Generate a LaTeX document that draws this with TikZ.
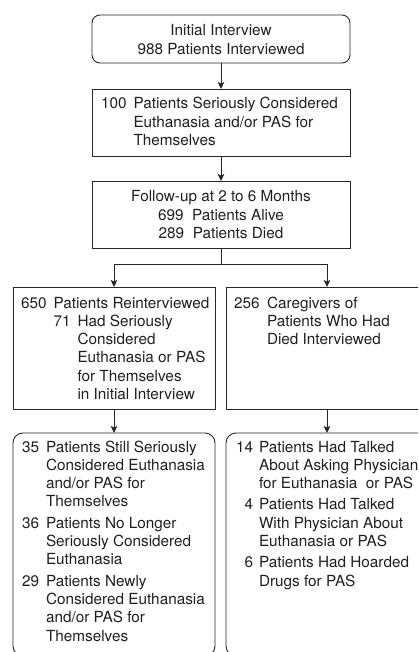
\documentclass[tikz,border=0pt]{standalone}
\usepackage{fontspec}
\setmainfont{TeX Gyre Heros}
\usetikzlibrary{arrows.meta}
\begin{document}
\begin{tikzpicture}[x=1pt,y=-1pt,
  box/.style={draw=black!85,line width=0.9pt,inner sep=0pt,outer sep=0pt,anchor=north west},
  rbox/.style={box,rounded corners=8pt},
  txt/.style={inner sep=0pt,outer sep=0pt,text=black!88,font=\fontsize{15.3}{18.3}\selectfont},
  arr/.style={draw=black!85,line width=0.9pt,-{Stealth[length=7pt,width=6.5pt,inset=1.5pt]}},
  conn/.style={draw=black!85,line width=0.9pt}]
\useasboundingbox (0,0) rectangle (418,652);
\clip (0,0) rectangle (418,652);

% boxes
\node[rbox,minimum width=258pt,minimum height=48pt] (b1) at (92,15) {};
\node[box,minimum width=258pt,minimum height=67pt] (b2) at (92,89) {};
\node[box,minimum width=258pt,minimum height=67pt] (b3) at (92,181) {};
\node[box,minimum width=202pt,minimum height=122pt] (b4l) at (13,287) {};
\node[box,minimum width=202pt,minimum height=122pt] (b4r) at (226,287) {};
\node[box,rounded corners=10pt,minimum width=202pt,minimum height=223pt] (b5l) at (13,433) {};
\node[box,rounded corners=10pt,minimum width=202pt,minimum height=223pt] (b5r) at (226,433) {};

% texts
\node[txt,anchor=base] (t1) at (221,36) {\begin{tabular}[t]{@{}c@{}}Initial Interview\\988 Patients Interviewed\end{tabular}};
\node[txt,anchor=base west] (t2) at (101,109) {\begin{tabular}[t]{@{}r@{\hspace{7pt}}l@{}}100 & Patients Seriously Considered\\ & Euthanasia and/or PAS for\\ & Themselves\end{tabular}};
\node[txt,anchor=base] (t3) at (221,202) {\begin{tabular}[t]{@{}c@{}}Follow-up at 2 to 6 Months\\699\ \ Patients Alive\\289\ \ Patients Died\end{tabular}};
\node[txt,anchor=base west] (t4l) at (21,308) {\begin{tabular}[t]{@{}r@{\hspace{7pt}}l@{\hspace{7pt}}l@{}}650 & \multicolumn{2}{@{}l@{}}{Patients Reinterviewed}\\
 & 71 & Had Seriously\\ & & Considered\\ & & Euthanasia or PAS\\ & & for Themselves\\ & & in Initial Interview\end{tabular}};
\node[txt,anchor=base west] (t4r) at (234,308) {\begin{tabular}[t]{@{}r@{\hspace{7.5pt}}l@{}}256 & Caregivers of\\ & Patients Who Had\\ & Died Interviewed\end{tabular}};
\node[txt,anchor=base west] (t5l) at (22,452) {\begin{tabular}[t]{@{}r@{\hspace{7pt}}l@{}}35 & Patients Still Seriously\\ & Considered Euthanasia\\ & and/or PAS for\\ & Themselves\\[3pt]
36 & Patients No Longer\\ & Seriously Considered\\ & Euthanasia\\[3pt]
29 & Patients Newly\\ & Considered Euthanasia\\ & and/or PAS for\\ & Themselves\end{tabular}};
\node[txt,anchor=base west] (t5r) at (236,452) {\begin{tabular}[t]{@{}r@{\hspace{6pt}}l@{}}14 & Patients Had Talked\\ & About Asking Physician\\ & for Euthanasia\ \ or PAS\\[3pt]
4 & Patients Had Talked\\ & With Physician About\\ & Euthanasia or PAS\\[3pt]
6 & Patients Had Hoarded\\ & Drugs for PAS\end{tabular}};

% connectors
\draw[arr] (b1.south) -- (b2.north);
\draw[arr] (b2.south) -- (b3.north);
\coordinate (sp) at (221,264);
\draw[conn] (b3.south) -- (sp);
\draw[arr] (sp) -| (b4l.north);
\draw[arr] (sp) -| (b4r.north);
\draw[arr] (b4l.south) -- (b5l.north);
\draw[arr] (b4r.south) -- (b5r.north);
\end{tikzpicture}
\end{document}
